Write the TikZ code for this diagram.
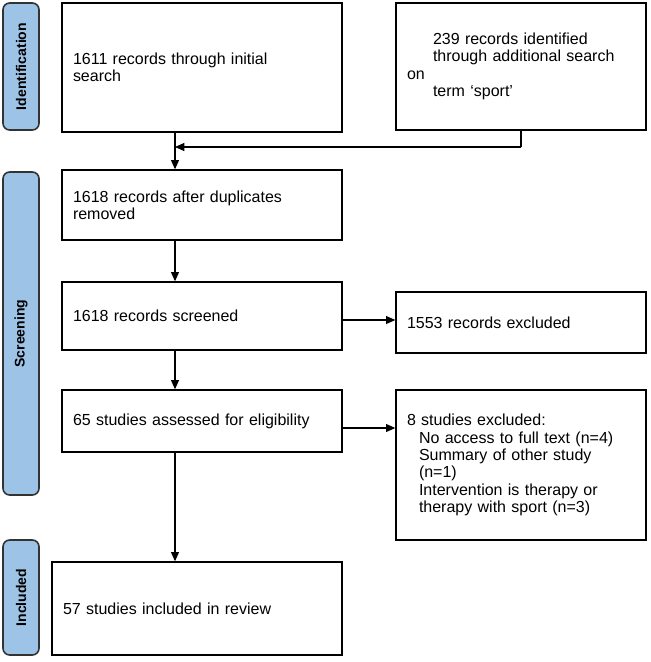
\documentclass[tikz,border=0pt]{standalone}
\usepackage{fontspec}
\setmainfont{Liberation Sans}
\usetikzlibrary{arrows.meta}
\usetikzlibrary{positioning}
\definecolor{phaseblue}{RGB}{157,195,230}
\newlength{\pxu}
\setlength{\pxu}{0.75pt}
\tikzset{box/.style={draw=black,line width=1pt,align=left,inner sep=0pt,
    font=\fontsize{12}{13}\selectfont}}
\tikzset{phase/.style={draw=black!80,fill=phaseblue,
    line width=1.2pt,rounded corners=5pt,font=\bfseries\fontsize{10.5}{12}\selectfont,
    rotate=90}}
\tikzset{arrow/.style={-{Triangle[length=7pt,width=6pt]},line width=0.8pt}}
\newcommand{\bx}[6]{% name, x, y, w, h, text
    \node[box,minimum width=#4\pxu,minimum height=#5\pxu,text width=#4\pxu-22\pxu]
        (#1) at (#2,#3) {#6};
}

\begin{document}
\begin{tikzpicture}[x=0.75pt,y=-0.75pt]
        \useasboundingbox (0,0) rectangle (651,662);

        \node[phase,minimum width=127\pxu,minimum height=36\pxu] (idp) at (21,66.5) {Identification};
        \node[phase,minimum width=323\pxu,minimum height=36\pxu] (scp) at (21,333.5) {Screening};
        \node[phase,minimum width=115\pxu,minimum height=36\pxu] (inp) at (21,597.5) {Included};

        \bx{ini}{202}{67.5}{280}{129}{1611 records through initial\\search}
        \bx{add}{521}{66.5}{250}{127}{\hspace*{26\pxu}239 records identified\\
            \hspace*{26\pxu}through additional search on\\
            \hspace*{26\pxu}term `sport'}
        \bx{dup}{202}{205}{280}{70}{1618 records after duplicates\\removed}
        \bx{scr}{202}{316}{280}{68}{1618 records screened}
        \bx{exc}{521}{322.5}{250}{61}{1553 records excluded}
        \bx{elg}{202}{421}{280}{62}{65 studies assessed for eligibility}
        \bx{exs}{521}{465}{250}{150}{8 studies excluded:\\
            \hspace*{12\pxu}No access to full text (n=4)\\
            \hspace*{12\pxu}Summary of other study\\
            \hspace*{12\pxu}(n=1)\\
            \hspace*{12\pxu}Intervention is therapy or\\
            \hspace*{12\pxu}therapy with sport (n=3)}
        \bx{inc}{197}{608.5}{290}{93}{57 studies included in review}

        \coordinate (jn) at (175,147);
        \draw[line width=0.8pt] (add.south) -- (jn -| add.south);
        \draw[arrow] (jn -| add.south) -- (jn);
        \draw[arrow] (ini.south -| jn) -- (dup.north -| jn);
        \draw[arrow] (dup.south -| jn) -- (scr.north -| jn);
        \draw[arrow] (scr.south -| jn) -- (elg.north -| jn);
        \draw[arrow] (elg.south -| jn) -- (inc.north -| jn);
        \draw[arrow] (scr.east |- 0,320) -- (exc.west |- 0,320);
        \draw[arrow] (elg.east |- 0,428) -- (exs.west |- 0,428);
    \end{tikzpicture}
\end{document}
